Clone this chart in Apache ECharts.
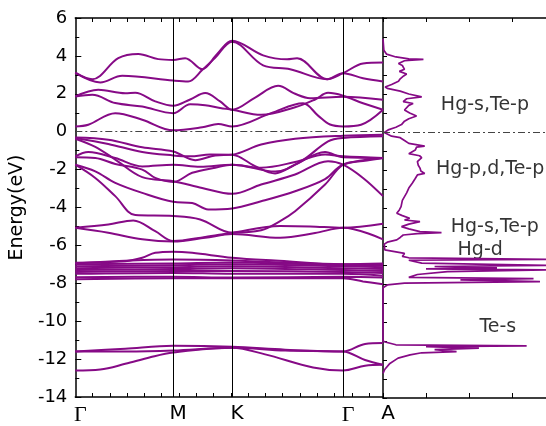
<!DOCTYPE html>
<html>
<head>
<meta charset="utf-8">
<script src="https://cdn.jsdelivr.net/npm/echarts@6/dist/echarts.min.js"></script>
<style>
  html, body { margin: 0; padding: 0; background: #fff; }
  #chart { width: 546px; height: 426px; }
</style>
</head>
<body>
<div id="chart"></div>
<script>
// k-path: high symmetry points (distance along path) and their names
var kPoints = [0, 98, 157, 268, 308];
var kNames = ["Γ", "M", "K", "Γ", "A"];

// conduction bands [k, E]
var cb1 = [[0,0.28],[13,0.37],[40,0.98],[67,0.63],[98,0.07],[127,0.23],[143,0.41],[157,0.28],[196,0.98],[228,1.5],[243,0.85],[255,0.38],[268,0.28],[286,0.37],[308,1.16]];
var cb2 = [[0,1.86],[17,1.95],[40,1.51],[67,1.33],[98,0.98],[115,1.45],[130,1.4],[145,1.25],[157,1.16],[186,0.89],[220,1.29],[240,1.7],[253,2.05],[268,1.9],[288,1.5],[308,1.16]];
var cb3 = [[0,1.86],[23,2.21],[50,2.03],[60,2.05],[80,1.6],[98,1.37],[115,1.7],[130,2.04],[145,1.6],[157,1.16],[180,1.8],[203,2.42],[220,2.0],[235,1.77],[268,1.85],[308,1.68]];
var cb4 = [[0,3.1],[25,2.6],[47,2.95],[98,2.7],[113,2.65],[127,3.25],[140,3.9],[157,4.75],[188,3.5],[215,3.3],[252,2.77],[268,3.09],[288,2.82],[308,2.65]];
var cb5 = [[0,3.12],[17,2.77],[43,3.88],[63,4.1],[83,3.83],[98,3.79],[110,3.88],[127,3.3],[142,4.1],[157,4.8],[188,4.03],[212,3.82],[222,3.87],[252,2.77],[268,3.09],[288,3.6],[308,3.65]];

// valence bands
var vb1 = [[0,-0.30],[33,-0.42],[67,-0.82],[98,-1.04],[120,-1.5],[140,-1.25],[157,-1.21],[186,-0.68],[220,-0.37],[268,-0.21],[308,-0.16]];
var vb2 = [[0,-0.33],[33,-0.65],[67,-1.07],[98,-1.25],[115,-1.3],[135,-1.2],[157,-1.21],[180,-1.82],[200,-2.2],[220,-1.74],[250,-1.07],[268,-1.35],[308,-1.39]];
var vb3 = [[0,-0.37],[20,-0.8],[40,-1.47],[67,-2.4],[98,-2.61],[127,-2.97],[157,-3.28],[186,-2.79],[220,-2.26],[253,-1.56],[268,-1.74],[288,-2.44],[308,-3.4]];
var vb4 = [[0,-1.3],[13,-1.07],[40,-1.39],[67,-1.83],[98,-1.74],[125,-1.85],[157,-1.74],[200,-2.1],[226,-1.56],[253,-0.51],[268,-0.33],[308,-0.24]];
var vb5 = [[0,-1.35],[20,-1.39],[40,-1.7],[67,-2.0],[80,-2.44],[98,-2.65],[117,-2.17],[140,-1.9],[157,-1.74],[186,-1.9],[220,-1.6],[250,-1.2],[268,-1.3],[308,-1.39]];
var vb6 = [[0,-1.74],[20,-2.09],[40,-2.7],[67,-3.23],[98,-3.7],[117,-3.76],[133,-4.1],[157,-4.05],[186,-3.67],[220,-3.14],[250,-2.5],[268,-1.74],[308,-1.39]];
var vb7 = [[0,-1.74],[20,-2.44],[40,-3.4],[60,-4.4],[98,-4.45],[125,-4.63],[157,-5.33],[186,-5.2],[205,-4.72],[220,-4.2],[250,-2.79],[268,-1.74],[288,-1.55],[308,-1.39]];
var vb8 = [[0,-5.07],[33,-4.9],[58,-4.68],[80,-5.25],[98,-5.77],[130,-5.55],[157,-5.33],[205,-4.98],[235,-5.0],[268,-5.07],[308,-4.86]];
var vb9 = [[0,-5.07],[33,-5.33],[67,-5.68],[98,-5.8],[130,-5.6],[157,-5.4],[205,-5.6],[240,-5.35],[268,-5.07],[308,-5.68]];

// Hg-d bands
var d1 = [[0,-6.91],[50,-6.83],[67,-6.65],[80,-6.39],[98,-6.33],[117,-6.39],[157,-6.65],[200,-6.8],[268,-6.99],[308,-6.95]];
var d2 = [[0,-6.95],[98,-6.75],[157,-6.8],[268,-7.0],[308,-7.0]];
var d3 = [[0,-7.0],[98,-6.95],[157,-6.9],[268,-7.05],[308,-7.08]];
var d4 = [[0,-7.1],[98,-7.05],[157,-7.0],[268,-7.1],[308,-7.15]];
var d5 = [[0,-7.2],[98,-7.15],[157,-7.1],[268,-7.2],[308,-7.25]];
var d6 = [[0,-7.3],[98,-7.25],[157,-7.2],[268,-7.3],[308,-7.35]];
var d7 = [[0,-7.4],[98,-7.35],[157,-7.35],[268,-7.4],[308,-7.45]];
var d8 = [[0,-7.5],[98,-7.45],[157,-7.5],[268,-7.5],[308,-7.6]];
var d9 = [[0,-7.68],[98,-7.65],[157,-7.7],[268,-7.65],[308,-7.7]];
var d10 = [[0,-7.78],[98,-7.74],[157,-7.74],[268,-7.74],[288,-7.9],[308,-8.05]];

// Te-s bands
var s1 = [[0,-11.6],[50,-11.45],[98,-11.3],[157,-11.35],[210,-11.5],[268,-11.6],[290,-11.2],[308,-11.15]];
var s2 = [[0,-11.6],[50,-11.6],[98,-11.55],[157,-11.4],[210,-11.55],[268,-11.6],[290,-12.05],[308,-12.3]];
var s3 = [[0,-12.6],[25,-12.55],[50,-12.25],[75,-11.9],[98,-11.65],[157,-11.4],[190,-11.75],[238,-12.44],[268,-12.6],[290,-12.35],[308,-12.3]];

// density of states [E, DOS]
var dosCurve = [
  [4.9,0],[4.3,0.02],[4.1,0.08],[3.95,0.3],[3.85,0.6],[3.82,0.94],[3.75,0.5],[3.6,0.36],[3.5,0.45],
  [3.42,0.43],[3.3,0.5],[3.19,0.38],[3.05,0.55],[2.95,0.48],[2.8,0.4],[2.67,0.36],[2.5,0.2],[2.37,0.05],
  [2.3,0.1],[2.15,0.4],[2.0,0.6],[1.85,0.9],[1.75,0.55],[1.6,0.47],[1.5,0.7],[1.4,0.6],[1.3,0.62],
  [1.16,0.5],[1.0,0.62],[0.84,0.78],[0.7,0.6],[0.57,0.5],[0.39,0.43],[0.25,0.3],[0.11,0.12],[-0.02,0.03],
  [-0.12,0.02],[-0.22,0.2],[-0.3,0.4],[-0.45,0.5],[-0.6,0.6],[-0.74,0.97],[-0.8,0.78],[-0.95,0.75],
  [-1.14,0.6],[-1.25,0.85],[-1.35,0.9],[-1.56,0.8],[-1.75,0.82],[-1.9,0.86],[-2.05,0.88],[-2.18,0.97],
  [-2.26,0.8],[-2.45,0.75],[-2.7,0.68],[-2.95,0.6],[-3.2,0.55],[-3.4,0.5],[-3.6,0.45],[-3.93,0.42],
  [-4.1,0.38],[-4.28,0.32],[-4.4,0.45],[-4.54,0.62],[-4.63,0.5],[-4.72,0.86],[-4.85,0.6],[-4.98,0.43],
  [-5.1,0.6],[-5.24,0.86],[-5.3,1.36],[-5.35,0.8],[-5.42,0.47],[-5.55,0.4],[-5.68,0.32],[-5.8,0.1],
  [-5.9,0.03],[-6.2,0.04],[-6.3,0.05],[-6.39,0.5],[-6.55,0.45],[-6.62,0.6],[-6.7,3.9],[-6.75,0.6],
  [-6.9,0.9],[-7.02,3.9],[-7.08,1.2],[-7.15,2.65],[-7.2,1.0],[-7.26,3.9],[-7.35,1.5],[-7.5,0.8],
  [-7.65,0.6],[-7.72,3.5],[-7.78,1.8],[-7.88,3.65],[-7.95,0.5],[-8.05,0.1],[-8.2,0],[-11.0,0],
  [-11.05,0.05],[-11.2,0.3],[-11.26,3.34],[-11.3,1.0],[-11.38,2.23],[-11.45,1.2],[-11.56,1.71],
  [-11.62,0.9],[-11.73,0.63],[-11.9,0.35],[-12.18,0.16],[-12.5,0.04],[-12.7,0]
];

// orbital labels in the DOS panel [DOS, E, text]
var dosLabels = [
  [2.37, 1.42, "Hg-s,Te-p"],
  [2.49, -1.95, "Hg-p,d,Te-p"],
  [2.6, -5.0, "Hg-s,Te-p"],
  [2.26, -6.21, "Hg-d"],
  [2.67, -10.26, "Te-s"]
];

var bands = [cb1, cb2, cb3, cb4, cb5, vb1, vb2, vb3, vb4, vb5, vb6, vb7, vb8, vb9,
  d1, d2, d3, d4, d5, d6, d7, d8, d9, d10, s1, s2, s3];

var PURPLE = "#860a86";
var FONT = "DejaVu Sans";

var chart = echarts.init(document.getElementById("chart"));

var minorK = [];
for (var i = 1; i * 17.3 < 308; i++) minorK.push(i * 17.3);

function zeroLine() {
  return {
    silent: true,
    symbol: ["none", "none"],
    label: { show: false },
    lineStyle: { color: "#444", width: 1, type: [7, 3, 2, 3] },
    data: [{ yAxis: 0 }],
  };
}

var series = [];
bands.forEach(function (b) {
  series.push({
    type: "line",
    xAxisIndex: 0,
    yAxisIndex: 0,
    data: b,
    showSymbol: false,
    smooth: 0.35,
    lineStyle: { color: PURPLE, width: 2 },
    z: 3,
  });
});

// high-symmetry verticals and Fermi level in the band panel
series.push({
  type: "line",
  xAxisIndex: 0,
  yAxisIndex: 0,
  data: [],
  z: 2,
  markLine: {
    silent: true,
    symbol: ["none", "none"],
    label: { show: false },
    lineStyle: { color: "#000", width: 1, type: "solid" },
    data: [{ xAxis: kPoints[1] }, { xAxis: kPoints[2] }, { xAxis: kPoints[3] }],
  },
});
series.push({ type: "line", xAxisIndex: 0, yAxisIndex: 0, data: [], z: 2, markLine: zeroLine() });

series.push({
  type: "line",
  xAxisIndex: 2,
  yAxisIndex: 1,
  data: dosCurve.map(function (p) { return [p[1], p[0]]; }),
  showSymbol: false,
  lineStyle: { color: PURPLE, width: 1.7 },
  z: 3,
});
series.push({ type: "line", xAxisIndex: 2, yAxisIndex: 1, data: [], z: 2, markLine: zeroLine() });

series.push({
  type: "scatter",
  xAxisIndex: 2,
  yAxisIndex: 1,
  data: dosLabels,
  symbolSize: 0,
  silent: true,
  label: {
    show: true,
    position: "inside",
    formatter: function (p) { return p.data[2]; },
    fontFamily: FONT,
    fontSize: 19,
    color: "#000",
  },
});

var frame = { show: true, onZero: false, lineStyle: { color: "#000", width: 1.5 } };

option = {
  animation: false,
  backgroundColor: "#fff",
  grid: [
    { left: 75, top: 18, width: 308, height: 380 },
    { left: 383, top: 18, width: 163, height: 380 },
  ],
  xAxis: [
    {
      gridIndex: 0, type: "value", min: 0, max: 308, position: "bottom",
      axisLine: frame,
      axisTick: { inside: true, length: 4, customValues: minorK, lineStyle: { color: "#000" } },
      axisLabel: {
        customValues: kPoints,
        margin: 7,
        padding: [0, 0, 0, 10],
        formatter: function (v) {
          var n = kNames[kPoints.indexOf(v)];
          return n == "Γ" ? "{g|Γ}" : "{t|" + n + "}";
        },
        rich: {
          g: { fontFamily: "Liberation Serif", fontSize: 22, color: "#000" },
          t: { fontFamily: FONT, fontSize: 20, color: "#000" },
        },
      },
      splitLine: { show: false },
    },
    {
      gridIndex: 0, type: "value", min: 0, max: 308, position: "top",
      axisLine: frame,
      axisTick: { inside: true, length: 4, customValues: minorK, lineStyle: { color: "#000" } },
      axisLabel: { show: false },
      splitLine: { show: false },
    },
    {
      gridIndex: 1, type: "value", min: 0, max: 3.79, interval: 1, position: "bottom",
      axisLine: frame,
      axisTick: { inside: true, length: 5, lineStyle: { color: "#000" } },
      axisLabel: { show: false },
      splitLine: { show: false },
    },
    {
      gridIndex: 1, type: "value", min: 0, max: 3.79, interval: 1, position: "top",
      axisLine: frame,
      axisTick: { inside: true, length: 4, lineStyle: { color: "#000" } },
      axisLabel: { show: false },
      splitLine: { show: false },
    },
  ],
  yAxis: [
    {
      gridIndex: 0, type: "value", min: -14, max: 6, interval: 2,
      axisLine: frame,
      axisTick: { inside: true, length: 6, lineStyle: { color: "#000" } },
      minorTick: { show: true, splitNumber: 2, length: 4, lineStyle: { color: "#000" } },
      axisLabel: { fontFamily: FONT, fontSize: 18, color: "#000", margin: 8 },
      splitLine: { show: false },
      name: "Energy(eV)",
      nameLocation: "middle",
      nameGap: 47,
      nameTextStyle: { fontFamily: FONT, fontSize: 19, color: "#000" },
    },
    {
      gridIndex: 1, type: "value", min: -14, max: 6, interval: 1,
      axisLine: frame,
      axisTick: { inside: true, length: 4, lineStyle: { color: "#000" } },
      axisLabel: { show: false },
      splitLine: { show: false },
    },
  ],
  series: series,
};

chart.setOption(option);
</script>
</body>
</html>
